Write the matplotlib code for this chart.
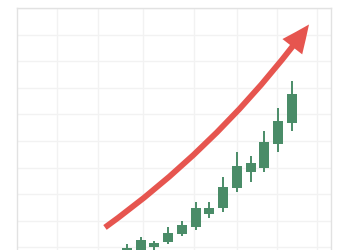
import matplotlib
matplotlib.use("Agg")
import matplotlib.pyplot as plt
from matplotlib.patches import FancyArrowPatch

# candle data (index, open, high, low, close)
idx = list(range(13))
opens = [-0.30, -0.08, 0.00, 0.19, 0.49, 0.75, 1.24, 1.47, 2.22, 2.82, 2.97, 3.87, 4.66]
highs = [0.11, 0.38, 0.23, 0.75, 0.98, 1.69, 1.69, 2.63, 3.57, 3.42, 4.36, 5.23, 6.24]
lows = [-0.45, -0.30, -0.11, 0.12, 0.42, 0.64, 1.09, 1.32, 2.07, 2.44, 2.82, 3.57, 4.36]
closes = [-0.04, 0.26, 0.15, 0.53, 0.86, 1.50, 1.50, 2.26, 3.05, 3.16, 3.95, 4.77, 5.75]

# trend arrow (start, end) in data units
arrow_start = (-1.6, 0.75)
arrow_end = (13.24, 8.38)

grid_x = [-5.09, -2.11, 1.16, 4.87, 8.0, 10.91, 13.82]
grid_y = list(range(0, 10))

green = "#4a8c68"
red = "#e6554f"

fig = plt.figure(figsize=(3.5, 2.5), dpi=100)
ax = fig.add_axes([17 / 350, -24 / 250, 314 / 350, 266 / 250])
ax.set_xlim(-8.0, 14.84)
ax.set_ylim(-1, 9)

ax.set_xticks(grid_x)
ax.set_yticks(grid_y)
ax.tick_params(length=0, labelbottom=False, labelleft=False)
ax.grid(True, color="#f2f2f2", linewidth=1.0)
ax.set_axisbelow(True)
for s in ax.spines.values():
    s.set_color("#e2e2e2")
    s.set_linewidth(1.0)

ax.vlines(idx, lows, highs, color=green, linewidth=1.4, zorder=2)
ax.bar(idx, [c - o for o, c in zip(opens, closes)], bottom=opens,
       width=0.73, color=green, edgecolor="none", zorder=3)

arr = FancyArrowPatch(arrow_start, arrow_end,
                      connectionstyle="arc3,rad=0.08",
                      arrowstyle="simple,head_length=20,head_width=18,tail_width=4.2",
                      mutation_scale=1, shrinkA=0, shrinkB=0,
                      color=red, linewidth=0, zorder=4)
ax.add_patch(arr)

fig.savefig("out.png", dpi=100)
